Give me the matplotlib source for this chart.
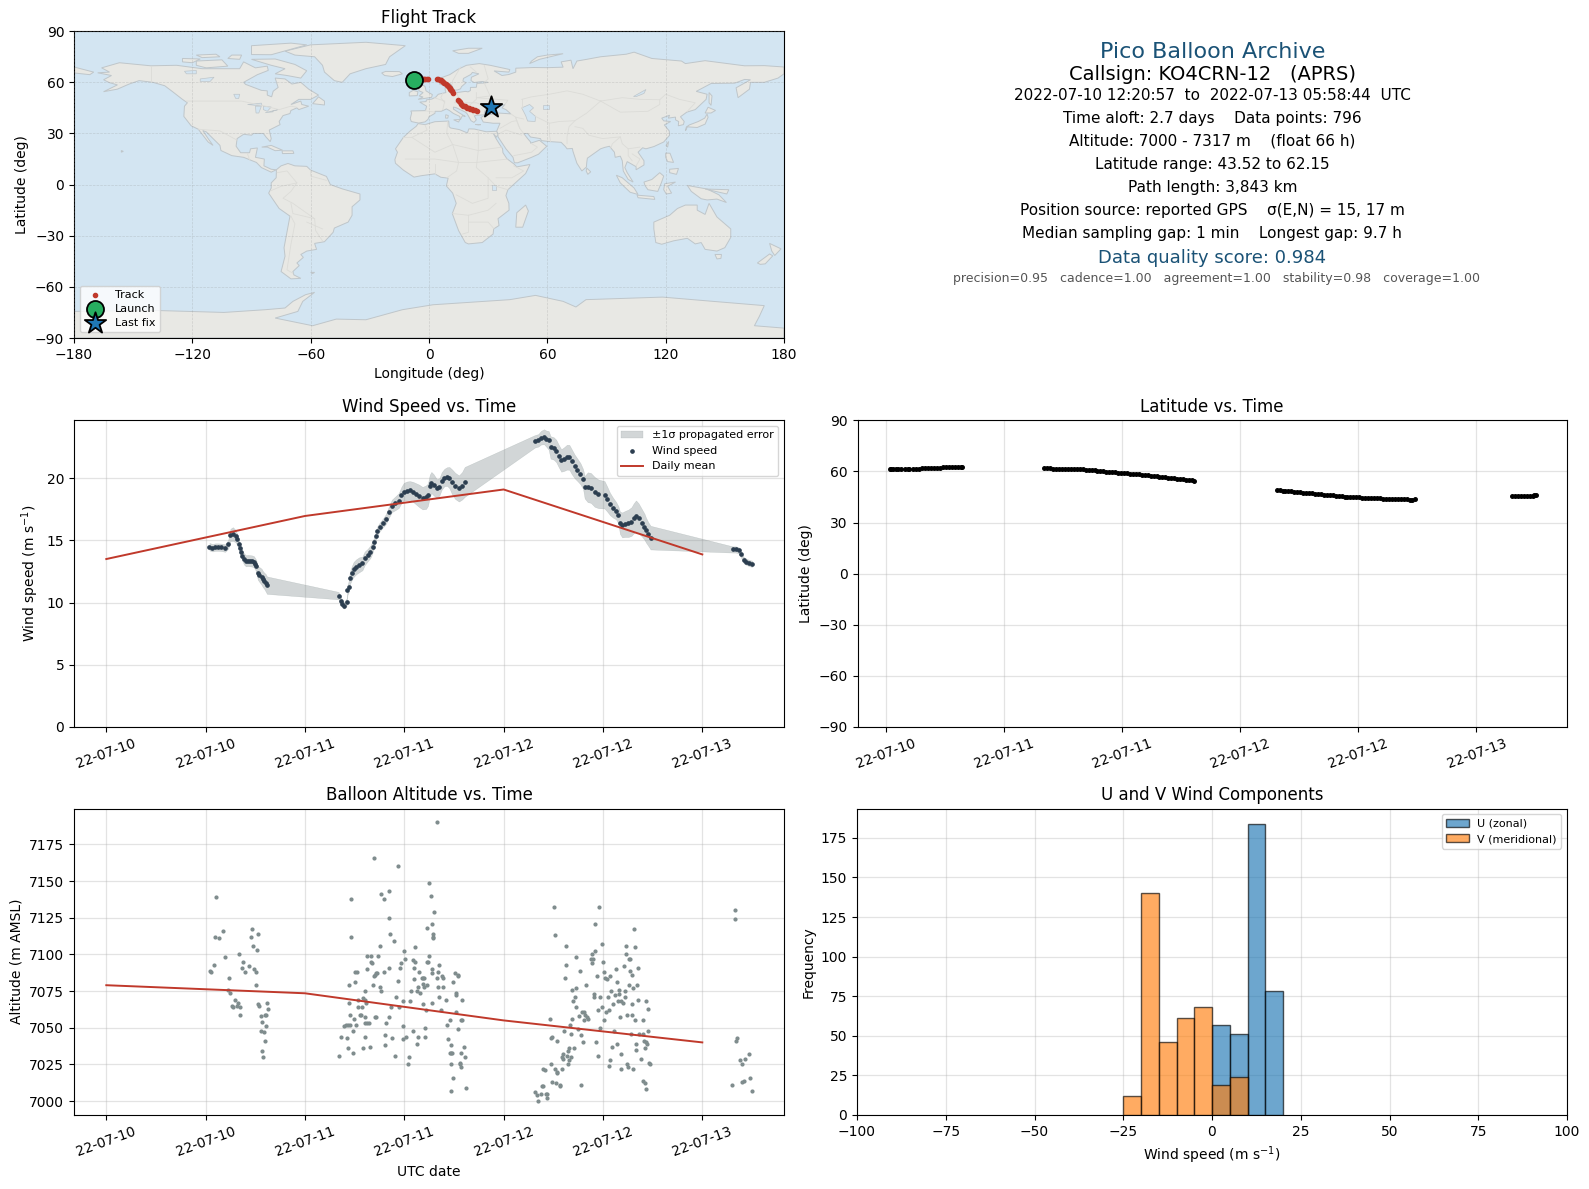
from datetime import datetime
import matplotlib
matplotlib.use("Agg")
import matplotlib.pyplot as plt
import matplotlib.dates as mdates
from matplotlib.patches import Polygon

W, H = 1589, 1189
START = mdates.date2num(datetime(2022, 7, 10))

# ---------- wind speed ----------
wind_h1 = [12.46,12.83,13.16,13.53,13.90,14.36,14.73,15.0,15.29,15.61,15.80,16.0,16.12,16.28,16.44,16.65,16.86,17.1,17.37,17.6,17.83,18.0,18.11,18.30,18.5,18.76,18.9,19.08,19.25,19.41]
wind_v1 = [14.49,14.41,14.46,14.46,14.44,14.38,14.68,15.43,15.51,15.35,15.08,14.7,14.38,14.05,13.74,13.5,13.36,13.38,13.36,13.34,13.28,13.1,12.93,12.39,12.25,12.07,11.9,11.75,11.6,11.40]
wind_s1 = [0.3,0.3,0.3,0.3,0.3,0.3,0.35,0.5,0.55,0.5,0.45,0.4,0.4,0.4,0.4,0.45,0.45,0.45,0.45,0.45,0.45,0.45,0.5,0.55,0.6,0.65,0.65,0.65,0.7,0.7]

wind_h2 = [28.06,28.34,28.53,28.71,29.04,29.13,29.27,29.41,29.64,29.87,30.19,30.56,30.94,31.21,31.58,31.91,32.19,32.37,32.56,32.74,33.06,33.44,33.76,34.13,34.50,34.92,35.33,35.66,35.94,36.31,36.68,37.05,37.42,37.79,38.20,38.62,38.85,39.08,39.27,39.55,39.92,40.24,40.52,40.84,41.17,41.44,41.77,42.14,42.60,42.97,43.30]
wind_v2 = [10.56,10.13,9.92,9.76,10.05,11.0,11.26,11.94,12.34,12.66,12.88,13.04,13.15,13.55,13.82,14.09,14.49,14.89,15.35,15.78,16.10,16.42,16.69,17.26,17.77,17.98,18.20,18.66,18.92,18.98,19.01,18.90,18.74,18.58,18.39,18.47,18.66,19.38,19.65,19.46,19.17,19.3,19.78,20.05,20.13,20.05,19.70,19.38,19.17,19.38,19.70]
wind_s2 = [0.3,0.3,0.25,0.25,0.3,0.4,0.45,0.5,0.55,0.6,0.6,0.6,0.55,0.55,0.5,0.5,0.45,0.4,0.35,0.35,0.35,0.35,0.4,0.45,0.5,0.55,0.6,0.65,0.7,0.75,0.75,0.8,0.85,0.9,0.9,0.95,0.9,0.9,0.85,0.85,0.75,0.7,0.7,0.7,0.75,0.85,1.0,1.05,1.05,1.1,1.2]

wind_h3 = [51.77,52.19,52.51,52.88,53.16,53.44,53.67,54.04,54.36,54.64,54.96,55.29,55.66,55.94,56.21,56.58,56.91,57.28,57.60,57.79,58.16,58.53,58.99,59.45,60.19,60.52,60.84,61.21,61.58,61.86,62.05,62.32,62.69,63.06,63.44,63.71,63.99,64.31,64.69,65.01,65.19,65.47,65.75]
wind_v3 = [22.96,23.04,23.25,23.33,23.17,23.04,22.47,22.39,22.18,21.80,21.42,21.53,21.69,21.67,21.34,20.94,20.67,20.35,19.92,19.27,19.27,19.22,18.90,18.74,18.66,18.31,17.93,17.63,17.39,17.04,16.42,16.24,16.32,16.37,16.51,16.77,16.96,16.77,16.42,16.10,15.83,15.51,15.22]
wind_s3 = [0.5,0.5,0.55,0.6,0.65,0.75,0.9,0.9,0.9,0.9,0.9,0.95,1.0,1.0,1.0,0.95,0.9,0.85,0.8,0.9,1.2,1.2,1.2,1.15,1.1,1.0,0.9,0.8,0.7,0.7,0.9,1.0,1.05,1.1,1.15,1.2,1.25,1.2,1.1,1.05,1.0,0.95,0.95]

wind_h4 = [75.66,76.03,76.40,76.68,77.00,77.32,77.69,78.02]
wind_v4 = [14.27,14.27,14.19,13.87,13.41,13.28,13.17,13.12]
wind_s4 = [0.25,0.25,0.25,0.25,0.25,0.25,0.25,0.25]

wind_hours = wind_h1 + wind_h2 + wind_h3 + wind_h4
wind_speed = wind_v1 + wind_v2 + wind_v3 + wind_v4
wind_sigma = wind_s1 + wind_s2 + wind_s3 + wind_s4

mean_hours = [0, 24, 48, 72]
wind_mean = [13.5, 16.96, 19.09, 13.87]
alt_mean = [7079, 7073.5, 7055, 7040]

# ---------- latitude ----------
lat_hours = [12.4,12.5,12.7,13.0,13.2,13.5,13.9,14.2,14.4,14.8,15.1,15.4,15.7,16.0,16.3,16.6,16.9,17.2,17.5,17.8,18.1,18.4,18.7,19.0,19.3,19.6,19.7,
 28.1,28.4,28.7,29.0,29.3,29.6,29.9,30.2,30.5,30.8,31.1,31.4,31.7,32.0,32.3,32.6,32.9,33.2,33.5,33.8,34.1,34.4,34.7,35.0,35.3,35.6,35.9,36.2,36.5,36.8,37.1,37.4,37.7,38.0,38.3,38.6,38.9,39.2,39.5,39.8,40.1,40.4,40.7,41.0,41.3,41.6,41.9,42.2,42.5,42.8,43.1,43.35,
 51.7,52.0,52.3,52.6,52.9,53.2,53.5,53.8,54.1,54.4,54.7,55.0,55.3,55.6,55.9,56.2,56.5,56.8,57.1,57.4,57.7,58.0,58.3,58.6,58.9,59.2,59.5,59.8,60.1,60.4,60.7,61.0,61.3,61.6,61.9,62.2,62.5,62.8,63.1,63.4,63.7,64.0,64.3,64.6,64.9,65.2,65.5,65.8,
 75.6,75.9,76.2,76.5,76.8,77.1,77.4,77.7,77.85,78.0]
lat_deg = [61.2,61.3,61.4,61.5,61.5,61.5,61.5,61.6,61.6,61.6,61.7,61.7,61.8,61.9,62.1,62.2,62.2,62.2,62.2,62.3,62.3,62.3,62.3,62.3,62.3,62.3,62.3,
 61.8,61.8,61.8,61.7,61.7,61.7,61.6,61.6,61.6,61.5,61.4,61.4,61.3,61.2,61.0,60.9,60.7,60.6,60.4,60.2,60.0,59.8,59.7,59.6,59.4,59.3,59.1,59.0,58.8,58.7,58.6,58.4,58.2,58.0,57.9,57.7,57.5,57.3,57.1,57.0,56.8,56.6,56.4,56.2,56.0,55.8,55.6,55.4,55.2,55.0,54.7,54.5,
 49.0,48.9,48.8,48.6,48.5,48.3,48.2,48.0,47.8,47.6,47.5,47.3,47.1,46.9,46.7,46.5,46.4,46.2,46.0,45.9,45.7,45.5,45.3,45.2,45.0,44.9,44.8,44.7,44.7,44.6,44.5,44.4,44.3,44.3,44.2,44.2,44.1,44.1,44.0,43.9,43.9,43.8,43.7,43.6,43.6,43.5,43.5,43.52,
 45.3,45.3,45.3,45.3,45.3,45.3,45.4,45.5,45.9,46.0]

# ---------- altitude ----------
alt_hours = [13.2,13.1,13.6,14.1,13.0,12.5,12.7,14.4,14.8,14.7,15.0,15.5,15.9,15.8,15.2,15.3,16.2,16.1,16.0,16.5,16.4,16.8,17.2,17.6,17.5,18.3,17.7,18.2,17.9,18.1,18.1,18.3,18.5,19.4,19.5,18.7,19.2,19.3,18.8,19.3,18.7,19.0,19.2,18.8,18.9,
 28.1,28.4,29.1,29.2,29.8,28.7,29.0,29.2,29.5,29.5,29.8,29.9,30.2,29.3,29.3,30.1,30.1,30.3,29.6,29.6,30.4,30.4,30.9,31.0,31.3,31.2,31.4,30.7,30.8,31.2,31.3,31.5,31.7,31.3,31.0,31.8,32.5,32.6,31.5,32.0,32.8,32.0,32.1,31.5,32.6,32.7,32.4,32.5,33.5,34.1,32.2,33.1,33.2,32.4,33.2,33.6,34.2,35.2,34.2,34.3,34.8,33.1,36.0,36.1,35.6,35.5,35.3,35.0,34.4,35.4,35.9,36.7,34.1,33.8,33.7,34.5,33.7,34.9,35.8,36.2,35.9,37.0,37.6,37.5,38.5,38.5,36.6,36.5,37.3,37.1,37.3,37.2,37.8,37.2,38.1,38.3,38.4,37.7,36.8,37.5,37.9,38.2,38.4,38.7,38.3,38.6,39.3,40.4,39.0,39.2,39.6,39.3,38.8,39.5,39.5,39.5,39.9,39.0,38.8,38.9,40.2,39.4,39.4,40.1,40.6,40.0,40.7,40.1,40.7,40.2,41.0,42.1,42.5,42.5,41.9,42.2,42.3,43.0,42.3,41.5,41.2,42.9,43.0,42.5,41.3,41.7,43.2,42.9,41.5,41.7,41.8,43.3,41.6,42.7,42.7,42.8,41.9,41.7,43.4,
 54.1,54.2,55.5,55.5,55.4,56.8,57.2,56.8,56.2,57.9,56.6,56.4,56.7,57.1,57.5,57.7,57.8,56.2,57.7,58.1,58.2,53.6,56.0,57.0,55.3,56.1,57.3,53.7,53.9,54.4,57.6,56.5,55.9,55.8,55.2,55.0,55.6,56.1,55.2,55.9,55.8,53.7,52.7,53.0,54.2,55.0,54.4,54.5,53.8,54.3,54.8,54.8,52.7,52.6,57.3,51.8,52.0,52.5,53.1,53.3,53.3,52.2,59.5,59.0,63.8,59.9,62.8,63.9,59.0,58.7,62.8,58.5,58.8,58.7,63.2,63.3,60.0,62.5,64.2,61.6,63.3,60.1,63.5,59.3,60.8,60.2,60.5,61.7,63.2,64.1,63.6,61.0,61.9,62.7,58.9,58.9,59.6,60.6,61.5,61.9,62.7,61.8,62.2,62.4,61.2,64.2,65.2,63.5,59.9,59.4,60.7,60.4,65.4,62.9,63.5,62.1,63.9,64.8,60.1,59.6,61.3,63.4,64.4,64.8,65.5,65.0,65.2,65.3,59.2,61.7,64.0,61.1,65.1,64.0,62.2,59.4,64.6,60.8,65.6,65.7,60.7,62.9,63.0,62.2,63.6,64.8,65.1,65.2,
 76.0,75.9,76.2,76.1,76.5,77.1,77.6,76.8,77.8,76.8,77.0,75.6,78.0]
alt_m = [7139,7112,7111,7116,7093,7089,7088,7098,7084,7076,7074,7069,7067,7065,7065,7064,7064,7059,7100,7095,7091,7088,7092,7117,7112,7114,7106,7103,7090,7088,7079,7066,7065,7067,7063,7058,7059,7059,7054,7051,7048,7047,7041,7034,7030,
 7031,7044,7043,7036,7033,7051,7052,7052,7052,7059,7048,7056,7052,7067,7079,7081,7088,7088,7138,7112,7069,7064,7064,7070,7075,7069,7067,7059,7059,7057,7053,7053,7053,7044,7036,7037,7057,7057,7099,7099,7099,7095,7094,7090,7087,7087,7085,7086,7088,7091,7079,7078,7075,7166,7141,7138,7143,7160,7125,7114,7109,7106,7102,7097,7094,7091,7082,7071,7064,7064,7068,7068,7057,7053,7045,7043,7038,7031,7042,7044,7051,7048,7044,7039,7044,7050,7030,7025,7105,7096,7095,7091,7088,7083,7084,7084,7084,7078,7075,7075,7074,7080,7078,7079,7066,7062,7067,7062,7149,7140,7129,7121,7118,7114,7112,7111,7190,7099,7095,7095,7093,7090,7087,7088,7085,7084,7084,7078,7078,7071,7069,7087,7085,7086,7081,7074,7072,7069,7061,7055,7052,7055,7055,7049,7042,7038,7037,7033,7033,7033,7033,7030,7025,7026,7025,7023,7016,7007,7009,
 7132,7113,7106,7093,7084,7098,7089,7077,7076,7079,7071,7068,7064,7058,7061,7061,7059,7056,7055,7057,7056,7056,7052,7049,7048,7046,7045,7043,7044,7041,7040,7036,7036,7034,7032,7030,7031,7030,7029,7028,7025,7025,7022,7021,7022,7022,7019,7020,7013,7012,7011,7010,7010,7010,7011,7006,7004,7005,7005,7005,7002,7000,7132,7121,7117,7107,7106,7105,7102,7100,7100,7097,7097,7094,7097,7097,7095,7092,7091,7090,7089,7088,7086,7085,7085,7084,7083,7081,7079,7079,7077,7075,7076,7075,7073,7071,7071,7071,7072,7073,7071,7068,7068,7067,7066,7069,7068,7066,7064,7062,7062,7061,7063,7059,7059,7057,7055,7055,7055,7050,7048,7046,7046,7046,7048,7041,7040,7039,7040,7039,7039,7037,7036,7035,7032,7031,7029,7028,7026,7025,7024,7025,7023,7022,7022,7014,7012,7008,
 7130,7124,7043,7041,7028,7029,7032,7025,7016,7013,7014,7011,7007]

# ---------- histogram ----------
u_bins = [0, 5, 10, 15]
u_counts = [57, 51, 184, 78]
v_bins = [-25, -20, -15, -10, -5, 0, 5]
v_counts = [12, 140, 46, 61, 68, 19, 24]

# ---------- flight track ----------
track_lon = [-3.6,-3,-2.4,-1.8,-1.2,-0.5, 4.2,4.8,5.4,6,6.6,7.2,7.8,8.4,9,9.5,10,10.4,10.8,11.2,11.6,12, 14.8,15.2,15.6,16.1,16.7,17.3,18,18.7,19.4,20.1,20.9,21.7,22.5,23.3,24.2]
track_lat = [62.0,62.0,62.1,62.1,62.1,62.2, 61.7,61.7,61.4,61.1,60.7,60.3,59.8,59.3,58.7,58.1,57.5,56.9,56.2,55.5,54.7,53.9, 49.8,49,48.2,47.5,46.9,46.4,46,45.6,45.2,44.8,44.4,44.1,43.8,43.6,43.3]
launch_lonlat = (-7.5, 61.6)
last_lonlat = (31.2, 45.5)

# ---------- base map (lon, lat) ----------
eurasia = [(-9,37),(-9.5,38.8),(-8.8,42),(-9.2,43.2),(-1.8,43.4),(-1.2,46),(-4.7,48.4),(-1.5,48.7),(-1.3,49.7),(1.5,50.2),(3.5,51.4),(4.7,53),(7,53.6),(8.6,54),(8.2,55.5),(8.2,57),(10.6,57.7),(10.3,56),(10,54.7),(11,54),(14.2,54),(18.5,54.7),(19.8,54.4),(21,55.2),(21,57),(24,57.1),(24.3,59.4),(28,59.6),(30,60),(27,60.5),(22.9,59.9),(21.3,61),(21.5,63),(25.3,65),(22,65.8),(21.2,64.6),(17.5,62.3),(17.2,60.7),(18.8,59.8),(16.5,57.5),(16,56.2),(14.3,55.5),(12.9,55.4),(11.2,58.8),(10.6,59.3),(8.2,58.1),(5.5,58.8),(5,61),(6,62.6),(10.5,64.5),(14.5,67.5),(19,70),(25.5,71),(31,70),(41,67.5),(40.5,66),(35,66.5),(33,66.7),(37,64),(40.5,64.6),(44,66),(44,68.3),(53,68.7),(60,68.6),(68,68.9),(67,72),(72,73),(73,68),(75,72.5),(80,73.5),(87,75),(100,76.5),(104,77.7),(113,74),(128,72.5),(130,71),(140,72.7),(160,69.7),(170,69.8),(180,69),(180,65),(177,62.5),(170,60),(163,60),(162.5,56),(156.7,51),(155.7,56.8),(163,61.5),(160,61.7),(155,59.5),(143,59.3),(135.5,54.7),(141,53),(140.5,50),(135,44),(130.7,42.5),(127.5,39.8),(129.4,37),(129,35.2),(126.4,34.5),(126.6,37),(125,38),(125,39.6),(121.3,39),(122,40.7),(118,39),(119,37.4),(122.5,37),(119.3,35),(121.8,31.5),(122,29),(119,25),(114,22.3),(110,21),(108.3,21.6),(106,19),(109,14),(109,11.5),(105,8.7),(105,10.5),(102,12.5),(100.5,13.5),(99.3,10),(100.5,7),(103.5,1.5),(101,3),(98.5,8),(98,14),(97,16.7),(94.4,16),(94,19),(91.5,22.5),(89,21.8),(87,21),(80.3,15.5),(80,13),(79.8,10.3),(77.5,8),(75,12.5),(73,19.5),(72.7,21.2),(70,21),(69,22.5),(67,24.8),(61.6,25.2),(57,25.8),(56.5,27),(51.5,27.9),(50,30),(48,30),(50,27),(51.5,25),(51.5,24.3),(56,26),(59.7,22.5),(55.5,17.8),(52,16),(45,12.8),(43.3,12.8),(42.6,16),(39,21),(35,28),(34.9,29.5),(34.3,31.3),(36,36),(32.5,36),(30.5,36.3),(27.5,36.7),(26.3,39.4),(29,41),(31.4,41.2),(35,42),(41.5,41.5),(39,44),(37,45),(38.5,47),(35,46),(33.6,44.4),(32.5,45.5),(31,46.5),(28.8,44.5),(28,42),(28.9,41),(26,40.8),(24,40.7),(23,40.3),(24,38),(22.8,36.5),(21.3,37.5),(19.4,41.5),(18.5,42.5),(14,45),(12.4,45.5),(12.4,44.3),(16,41.6),(18.4,40),(16.9,40.4),(15.9,38),(15.6,40),(12.3,41.8),(10.3,43.5),(8.8,44.4),(6.2,43),(3.1,43),(3,41.8),(0,39.8),(-0.5,38.3),(-2,36.8),(-5.3,36.1)]
africa = [(-5.5,35.8),(-2,35.2),(3,36.9),(10,37.3),(10.2,34),(11,33.2),(15.3,32.3),(19.5,30.3),(20.2,32.7),(23,32.6),(29,31),(32.3,31.2),(34.3,31.3),(34.9,29.5),(34.2,27.8),(32.6,30),(34,27),(35.7,23.8),(37.3,21),(37.5,18.7),(39.5,15.2),(43.2,12),(44.5,10.4),(51.2,11.8),(49,6.5),(40,-3),(39,-6.5),(40.5,-11),(40.6,-15),(35,-20),(35.5,-24),(32.8,-26),(32.5,-29),(27,-34),(20,-34.8),(18.4,-34),(15,-27),(11.8,-17),(13.8,-11),(12,-5),(8.8,-0.8),(9.7,3.8),(6,4.3),(3,6.3),(-4,5.2),(-7.6,4.4),(-13,8.5),(-17,12.5),(-17.3,14.7),(-16,19),(-17,21),(-13,27.7),(-9.5,31.5),(-6.5,34.2)]
north_america = [(-168,65.6),(-162,66),(-166,68.5),(-157,71.5),(-141,69.7),(-128,70),(-115,68),(-108,68),(-96,68),(-94,72),(-88,68.5),(-82,69.5),(-81.5,67),(-87,64.5),(-94,60),(-93,58.8),(-85,55.3),(-82,55),(-82,52.5),(-79.8,51.5),(-79,54.8),(-76.5,57),(-78,62.5),(-73,62),(-69.5,59),(-65,60),(-61,56),(-56,52.5),(-60,50),(-66,50),(-70,47),(-65,49),(-64.5,47),(-61,46),(-66,44),(-67,45),(-70,43.5),(-70.5,41.7),(-74,40.5),(-76,37),(-75.5,35.2),(-81,32),(-80,27),(-80.5,25.2),(-82.7,28),(-84,30),(-89,30),(-90,29),(-94,29.5),(-97.3,27),(-97.8,22.5),(-95.5,18.7),(-91,18.7),(-90.5,21),(-87,21.5),(-88,16),(-83.5,15),(-83.7,11),(-80,9),(-77.4,8.7),(-80,7.3),(-85,10),(-87.5,13),(-94,16),(-100,17),(-105.5,20),(-106,23),(-113,31),(-114.7,31.7),(-112,27),(-109.5,23),(-112,25),(-117,32.5),(-120.6,34.5),(-124.3,40),(-124,46),(-122.5,48),(-125,50),(-130,54.5),(-134,58),(-140,60),(-147,61),(-152,59),(-158,56),(-165,54.5),(-158,58.5),(-162,59.8),(-165,61.5),(-161,64)]
south_america = [(-77.4,8.7),(-75,11),(-71.5,12.4),(-68,11),(-62,10.7),(-60,8.5),(-52,4.8),(-50,0),(-44,-2.5),(-35,-5.5),(-35,-9),(-39,-13),(-39,-18),(-41,-22),(-48,-25.5),(-48.6,-28),(-53,-33.5),(-58,-34.5),(-57,-38),(-62,-39),(-65,-41),(-63.7,-42.7),(-67,-46),(-65.8,-47.5),(-69,-51),(-68.5,-53),(-65,-55),(-70,-55.3),(-75,-51),(-73,-42),(-73.5,-37),(-70.5,-18.5),(-76,-14),(-81.3,-5),(-80,-2),(-80,1),(-77.5,4),(-77.4,7)]
greenland = [(-73,78.3),(-60,82),(-32,83.5),(-12,81.5),(-20,75),(-22,70.5),(-32,68),(-40,65),(-44,60),(-48,61),(-53,66),(-54,70),(-58,75),(-68,76)]
australia = [(114,-22),(122,-18),(126,-14),(130,-12),(136,-12),(136,-15),(140,-17.5),(142,-11),(146,-19),(153,-26),(153,-31),(150,-37),(146,-39),(140,-38),(138,-34),(135,-34.8),(131,-31.5),(124,-33),(118,-35),(115,-34),(114,-26)]
antarctica = [(-180,-74.4),(-140,-73.8),(-104,-75),(-83,-73.4),(-73,-72.4),(-69,-68.5),(-62.6,-64.6),(-58,-63.2),(-64,-68.5),(-66.5,-74.4),(-78,-78.3),(-59,-82.8),(-47,-78.9),(-32,-79.3),(-13.5,-73.4),(2,-70.5),(41,-67.5),(54,-65),(68,-68.5),(74.5,-71.8),(79.6,-67.5),(118.4,-66),(144,-68.5),(170,-71),(167.5,-77.3),(165,-82.8),(180,-84.2),(180,-90),(-180,-90)]
islands = [
 [(-5.5,50),(1.3,51.2),(1.7,52.8),(-1.5,55),(-2,57.5),(-3.2,58.6),(-6,58.2),(-5,55),(-3,54),(-5,52),(-3,51.4)],
 [(-10,52),(-6,52.2),(-5.6,54.5),(-8,55.3),(-10,54)],
 [(-24,65.5),(-22,66.4),(-15,66.3),(-13.5,65),(-18.5,63.4),(-22.5,64)],
 [(-90,73.5),(-78,73.7),(-68,70.5),(-62,66.8),(-65,62.5),(-72,64),(-78,65),(-73,68),(-80,70)],
 [(-118,72.5),(-105,73.2),(-102,69.5),(-113,68.5),(-118,70)],
 [(-125,74),(-116,73.7),(-120,71.5),(-125,72)],
 [(-90,76.3),(-80,76.2),(-62,82),(-70,83),(-90,81.5)],
 [(-100,76),(-95,76),(-96,73.5),(-102,74)],
 [(-118,76),(-108,76.5),(-106,75),(-115,74.5)],
 [(-59,47.5),(-53,46.7),(-53,49),(-56,51.5)],
 [(-84.8,22),(-80,23),(-74.3,20.2),(-78,19.9),(-82,22)],
 [(-74.5,19.8),(-69,19.8),(-68.5,18.3),(-74.3,18.2)],
 [(44,-25),(47.5,-25),(50.4,-15.5),(49,-12),(44.5,-16.5)],
 [(80,9.7),(82,7.5),(80.5,6),(79.7,8)],
 [(95,5.5),(98,4),(104,-2),(106,-5.8),(102,-4.5),(97,1)],
 [(105.5,-6.2),(114,-7),(114.5,-8.7),(106,-7.7)],
 [(109,1.5),(113,3),(117,7),(119,5),(117.8,1),(116,-4),(111,-3),(109.5,-0.5)],
 [(119.5,0.5),(125,1.5),(121,-1),(123,-5),(120.3,-5.5),(119,-3)],
 [(131,-0.5),(141,-2.6),(147,-6),(150.8,-10.5),(146,-8.5),(141,-9),(138,-8.3),(133,-4)],
 [(120,18.5),(122.2,18.4),(124,13),(121,13.5),(120,16)],
 [(122,9),(126.5,9.5),(125.5,6),(122,7)],
 [(120.2,23),(121.5,25.3),(121,22)],
 [(130,31.5),(131,33.9),(136,33.5),(140,35.5),(141.5,39.5),(141,41.4),(139.8,39),(136.5,37),(132,35),(130.5,33.8)],
 [(140,42),(141.5,45.4),(145.3,43.5),(143,42)],
 [(142,54),(143.5,52),(143,46.5),(142,48)],
 [(51,71),(56,73.5),(68,76.8),(60,76),(55,75),(52,72.5)],
 [(12,78.5),(20,80),(27,80),(20,77),(15,77)],
 [(145,-41),(148.3,-41),(148,-43.3),(146,-43.6)],
 [(172.7,-34.5),(178.5,-37.7),(175.3,-41.6),(173.8,-39)],
 [(166.5,-46),(172.7,-40.7),(174.3,-41.8),(170.5,-46.5),(168,-46.8)],
 [(8.5,41),(9.8,40.5),(9.5,39),(8.4,39)],
 [(12.5,38),(15.6,38.2),(15,36.7)],
 [(-180,65.5),(-172,64.5),(-170,66),(-180,69)],
 [(25,35),(26.3,35.2),(23.5,35.3)],
 [(-156,20),(-155,19.5),(-156,19)],
 [(140,-2.6),(152,-3),(151,-5.5)],
 [(-60,-51.5),(-58,-51.5),(-59,-52.2)],
]
inland_water = [
 [(47,45),(51,47),(53,45),(51,43),(54,40),(53.8,37),(50,37.3),(49,40.5)],
 [(-92,47),(-85,47.8),(-84.7,46.5),(-88,46.5)],
 [(-88,46),(-85,46),(-86.3,42),(-87.7,42)],
 [(-84,46),(-80,45.5),(-82,43),(-84,44)],
 [(-83,42.2),(-76.5,44),(-79.5,43),(-79,42.7)],
 [(-124,66.5),(-118,67),(-118,65),(-123,65)],
 [(-116,62),(-109,63),(-111,60.5),(-116,60.5)],
 [(-99,53),(-96,53),(-96.5,50.5),(-98,50.5)],
 [(58,46.5),(61,46.5),(61,44.2),(58,44.2)],
 [(103.7,51.7),(110,55.8),(109,53.5),(105,51.6)],
 [(31.8,-0.5),(34,-0.5),(34,-3),(32,-3)],
]
borders = [
 [(-141,69.7),(-141,60)], [(-123,49),(-95,49),(-83,46),(-76,44),(-70,46),(-67.5,45.5)],
 [(-117,32.5),(-106,31.5),(-97.2,26)], [(-92,18),(-91,14.5)],
 [(-77,7),(-72,8),(-67,1),(-70,-4),(-74,-8),(-69,-11),(-58,-20),(-57.5,-27),(-54,-33)],
 [(-70,-18.5),(-68,-23),(-70,-35),(-72,-50),(-69,-52)], [(-60,8.5),(-60,5),(-52,2.5)], [(-80,-3.5),(-75,-1),(-67,1)],
 [(-70,-11),(-69,-17),(-58,-20)], [(-62,-22),(-54,-26)],
 [(-13,27.7),(-8.7,27.7),(-1,32),(-2,35)], [(-8.7,27.7),(3,19),(12,23.5),(25,20),(36.9,22)], [(25,32),(25,20),(24,10),(30,4),(34,-1),(40,-3)],
 [(9.5,37),(9,30),(12,23.5),(15,13),(14,8),(9,4)], [(3,12),(3,6.3)], [(-12,15),(3,15),(15,13),(24,13),(36,14.5),(40,15)],
 [(30,4),(30,-8),(22,-11),(13.8,-6)], [(34,-11),(30,-15),(20,-18),(12,-17)], [(20,-18),(20,-28),(17,-29)], [(33,-26),(30,-22),(20,-22)], [(34,4),(42,4),(48,8),(43,11)],
 [(-1.8,43.3),(3,42.5)], [(2.5,51),(8,49),(7,44)], [(7,53.6),(6,51),(8,48)], [(14,54),(15,51),(13,48),(17,48),(24,48),(30,45.5)], [(24,54),(24,50),(22,48),(20,46),(22.5,41)], [(28,59.6),(31,52),(24,51),(40,49.5),(38.5,47)],
 [(28,70),(30,62),(28,60)], [(16,69),(12,61),(12,59)], [(21,69),(24,66)],
 [(47,50),(52,51.5),(61,53),(70,55),(78,53),(87,49)], [(87,49),(98,51),(107,50),(117,49.8),(120,53),(127,50),(135,48),(131,43)],
 [(87,49),(97,42.5),(111,43),(117,47),(117,49.8)], [(47,50),(47,45)], [(54,40),(61,36),(66,37),(74,37.5),(80,42),(87,49)], [(61,36),(61,30),(61.6,25.2)], [(74,37.5),(71,34),(70,28),(70,24)], [(74,34),(78,33),(81,29),(88,27),(97,28),(98,24),(101,21),(107,22)], [(97,28),(93,24),(92,21)], [(101,21),(101,17),(103,14)], [(103,18),(107,15),(105,11)],
 [(44.5,37.5),(46,33),(48,30)], [(36,33),(42,37),(44.5,37.5),(44,39.5),(41.5,41.5)], [(35,29.5),(39,32),(47,29)], [(43,17),(52,19),(55,22),(52,24)], [(44,39.5),(48,38.5)], [(46,33),(44,39)],
]

land_color = "#e8e8e4"
ocean_color = "#d3e5f2"
coast_color = "#bfc6ca"
border_color = "#dcdcd8"
grid_kw = dict(color="#b0b0b0", alpha=0.35, lw=0.9)
red = "#c0392b"
navy = "#2c3e50"
slate = "#7f8c8d"
title_blue = "#1a5276"


def axes_at(x0, y0, x1, y1):
    return fig.add_axes([x0 / W, 1 - y1 / H, (x1 - x0) / W, (y1 - y0) / H])


def hour_num(hours):
    return [START + h / 24 for h in hours]


def date_axis(ax, first, last, ticks):
    ax.set_xlim(START + first / 24, START + last / 24)
    ax.set_xticks(hour_num(ticks))
    ax.xaxis.set_major_formatter(mdates.DateFormatter("%y-%m-%d"))
    ax.tick_params(axis="x", rotation=20)
    ax.grid(True, **grid_kw)
    ax.set_axisbelow(True)


fig = plt.figure(figsize=(W / 100, H / 100), dpi=100)

# Flight track
ax = axes_at(74, 31.2, 784, 338)
ax.set_facecolor(ocean_color)
for poly in [eurasia, africa, north_america, south_america, greenland, australia, antarctica] + islands:
    ax.add_patch(Polygon(poly, closed=True, fc=land_color, ec=coast_color, lw=0.7, zorder=1))
for poly in inland_water:
    ax.add_patch(Polygon(poly, closed=True, fc=ocean_color, ec=coast_color, lw=0.5, zorder=1.1))
for line in borders:
    ax.plot([p[0] for p in line], [p[1] for p in line], color=border_color, lw=0.6, zorder=1.2)
ax.grid(True, color="#909090", alpha=0.3, lw=0.5, ls="--", zorder=1.5)
ax.set_axisbelow(False)
ax.scatter(track_lon, track_lat, s=9, color=red, label="Track", zorder=3)
ax.scatter(*launch_lonlat, s=150, color="#27ae60", edgecolor="black", lw=1.3, label="Launch", zorder=4)
ax.scatter(*last_lonlat, s=260, marker="*", color="#1f77b4", edgecolor="black", lw=1.3, label="Last fix", zorder=4)
ax.set_xlim(-180, 180)
ax.set_ylim(-90, 90)
ax.set_xticks(range(-180, 181, 60))
ax.set_yticks(range(-90, 91, 30))
ax.set_xlabel("Longitude (deg)")
ax.set_ylabel("Latitude (deg)")
ax.set_title("Flight Track", fontsize=12)
ax.legend(loc="lower left", fontsize=8, labelspacing=0.35, borderpad=0.4)

# Summary text
summary_lines = [
    (52, 1212.3, "Pico Balloon Archive", 16, title_blue),
    (74.5, 1212.3, "Callsign: KO4CRN-12   (APRS)", 14, "black"),
    (95, 1212.3, "2022-07-10 12:20:57  to  2022-07-13 05:58:44  UTC", 11, "black"),
    (118, 1212.3, "Time aloft: 2.7 days    Data points: 796", 11, "black"),
    (141, 1212.3, "Altitude: 7000 - 7317 m    (float 66 h)", 11, "black"),
    (164, 1212.3, "Latitude range: 43.52 to 62.15", 11, "black"),
    (187.5, 1212.3, "Path length: 3,843 km", 11, "black"),
    (210.5, 1212.3, "Position source: reported GPS    \u03c3(E,N) = 15, 17 m", 11, "black"),
    (233.5, 1212.3, "Median sampling gap: 1 min    Longest gap: 9.7 h", 11, "black"),
    (258, 1212.3, "Data quality score: 0.984", 13, title_blue),
    (278.5, 1216.5, "precision=0.95   cadence=1.00   agreement=1.00   stability=0.98   coverage=1.00", 9, "#555555"),
]
for y, x, text, size, color in summary_lines:
    fig.text(x / W, 1 - y / H, text, fontsize=size, color=color, ha="center", va="center")

# Wind speed
ax = axes_at(74, 420.3, 784, 727)
wind_low = [v - s for v, s in zip(wind_speed, wind_sigma)]
wind_high = [v + s for v, s in zip(wind_speed, wind_sigma)]
ax.fill_between(hour_num(wind_hours), wind_low, wind_high, color=slate, alpha=0.35, lw=0.3,
                label="\u00b11\u03c3 propagated error")
ax.scatter(hour_num(wind_hours), wind_speed, s=5.5, color=navy, label="Wind speed", zorder=3)
ax.plot(hour_num(mean_hours), wind_mean, color=red, lw=1.4, label="Daily mean", zorder=4)
date_axis(ax, -3.9, 81.87, [0, 12, 24, 36, 48, 60, 72])
ax.set_ylim(0, 24.65)
ax.set_yticks(range(0, 21, 5))
ax.set_ylabel("Wind speed (m s$^{-1}$)")
ax.set_title("Wind Speed vs. Time", fontsize=12)
ax.legend(loc="upper right", fontsize=8)

# Latitude
ax = axes_at(857.5, 420.3, 1567, 727)
ax.scatter(hour_num(lat_hours), lat_deg, s=6.5, color="black", zorder=3)
date_axis(ax, 9.12, 81.2, [12, 24, 36, 48, 60, 72])
ax.set_ylim(-90, 90)
ax.set_yticks(range(-90, 91, 30))
ax.set_ylabel("Latitude (deg)")
ax.set_title("Latitude vs. Time", fontsize=12)

# Altitude
ax = axes_at(74, 808.5, 784, 1115)
ax.scatter(hour_num(alt_hours), alt_m, s=4, color=slate, zorder=3)
ax.plot(hour_num(mean_hours), alt_mean, color=red, lw=1.4, zorder=4)
date_axis(ax, -3.9, 81.87, [0, 12, 24, 36, 48, 60, 72])
ax.set_ylim(6990.5, 7199.5)
ax.set_yticks(range(7000, 7176, 25))
ax.set_xlabel("UTC date")
ax.set_ylabel("Altitude (m AMSL)")
ax.set_title("Balloon Altitude vs. Time", fontsize=12)

# U / V histogram
ax = axes_at(857, 808.5, 1567, 1115)
ax.bar(u_bins, u_counts, width=5, align="edge", color="#1f77b4", alpha=0.65, edgecolor="black", label="U (zonal)", zorder=3)
ax.bar(v_bins, v_counts, width=5, align="edge", color="#ff7f0e", alpha=0.65, edgecolor="black", label="V (meridional)", zorder=3)
ax.set_xlim(-100, 100)
ax.set_ylim(0, 193.5)
ax.set_xticks(range(-100, 101, 25))
ax.set_yticks(range(0, 176, 25))
ax.grid(True, **grid_kw)
ax.set_axisbelow(True)
ax.set_xlabel("Wind speed (m s$^{-1}$)")
ax.set_ylabel("Frequency")
ax.set_title("U and V Wind Components", fontsize=12)
ax.legend(loc="upper right", fontsize=8)

fig.savefig("out.png", dpi=100)
